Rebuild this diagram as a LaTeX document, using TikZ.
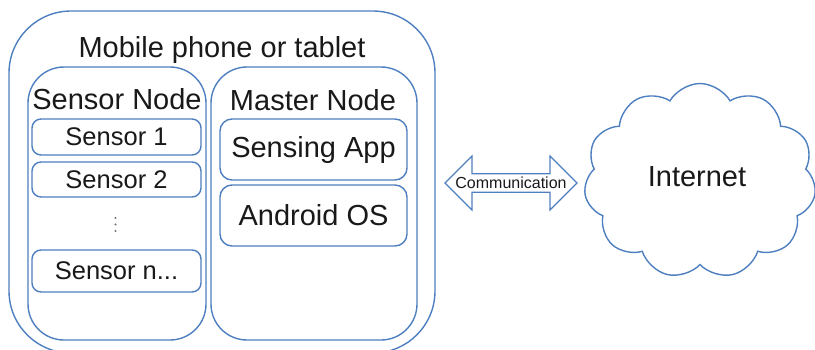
\documentclass[tikz,border=0pt]{standalone}
\usepackage{fontspec}
\setmainfont{Liberation Sans}
\usepackage{tikz}
\usepackage{xcolor}
\usetikzlibrary{shapes.arrows,shapes.symbols}
\definecolor{lineblue}{HTML}{4E7FC0}
\newcommand{\bigtext}{\fontsize{29}{32}\selectfont}
\newcommand{\midtext}{\fontsize{25.5}{28}\selectfont}
\tikzset{
    round-box/.style = {draw=lineblue, line width=1.4pt, fill=white, rectangle, rounded corners=#1, inner sep=0pt},
    round-box/.default = 12pt,
    part-box/.style = {round-box=9pt, font=\midtext},
    app-box/.style = {round-box=12pt, font=\bigtext},
}

\begin{document}
\begin{tikzpicture}[x=1pt, y=-1pt, text=black!90]
\useasboundingbox (0,0) rectangle (815,349);
% device with its two nodes
\node [round-box=62pt, minimum width=426pt, minimum height=342pt] (phone) at (222,182) {};
\node [font=\bigtext] (phone-title) at (222,50) {Mobile phone or tablet};
\node [round-box=36pt, minimum width=178pt, minimum height=273pt] (sensor-node) at (117,203.5) {};
\node [round-box=36pt, minimum width=206pt, minimum height=273pt] (master-node) at (314,203.5) {};
\node [font=\bigtext] (sensor-title) at (117,99) {Sensor Node};
\node [font=\bigtext] (master-title) at (313,100) {Master Node};
% sensors
\node [part-box, minimum width=169pt, minimum height=36pt] (sensor-1) at (116.5,137) {Sensor 1};
\node [part-box, minimum width=169pt, minimum height=35pt] (sensor-2) at (116.5,179.5) {Sensor 2};
\foreach \y in {218,224.5,231}
    \fill [black!55] (115.5,\y) circle (1.1pt);
\node [part-box, minimum width=169pt, minimum height=42pt] (sensor-n) at (116.5,271) {Sensor n...};
% software on the master
\node [app-box, minimum width=187pt, minimum height=61pt] (sensing-app) at (313.5,149.5) {Sensing App};
\node [app-box, minimum width=187pt, minimum height=61pt] (android-os) at (313.5,215.5) {Android OS};
% link to the internet
\node [double arrow, draw=lineblue, line width=1.2pt, minimum height=132pt, minimum width=54pt,
       double arrow head extend=12.5pt, inner sep=0pt, font=\fontsize{16}{18}\selectfont] (link) at (511,183) {Communication};
\node [cloud, cloud puffs=11, cloud puff arc=120, aspect=1.2, draw=lineblue, line width=1.4pt,
       minimum width=232pt, minimum height=195pt, font=\bigtext] (internet) at (700,181) {};
\node [font=\bigtext] (internet-label) at (697,177) {Internet};
\end{tikzpicture}
\end{document}
